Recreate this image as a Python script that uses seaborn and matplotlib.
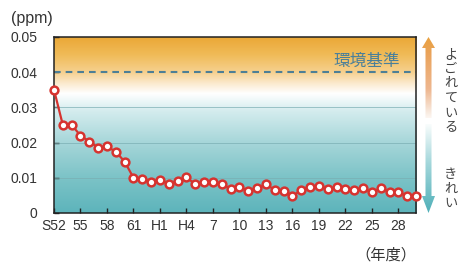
import numpy as np
import matplotlib
matplotlib.use('Agg')
import matplotlib.pyplot as plt
from matplotlib.colors import LinearSegmentedColormap
from matplotlib.patches import Polygon
import seaborn as sns

# annual mean NO2 (ppm), S52 .. H30
years = ["S52", "S53", "S54", "S55", "S56", "S57", "S58", "S59", "S60", "S61", "S62", "S63"] + \
        ["H%d" % i for i in range(1, 31)]
no2 = [0.0350, 0.0250, 0.0250, 0.0220, 0.0203, 0.0186, 0.0189, 0.0174, 0.0146, 0.0100,
       0.0097, 0.0088, 0.0095, 0.0082, 0.0091, 0.0101, 0.0082, 0.0089, 0.0089, 0.0082,
       0.0069, 0.0073, 0.0063, 0.0070, 0.0081, 0.0066, 0.0063, 0.0047, 0.0066, 0.0073,
       0.0076, 0.0069, 0.0073, 0.0069, 0.0066, 0.0070, 0.0059, 0.0070, 0.0061, 0.0061,
       0.0047, 0.0047]
tick_labels = ["S52", "55", "58", "61", "H1", "H4", "7", "10", "13", "16", "19", "22", "25", "28"]
yticks = [0, 0.01, 0.02, 0.03, 0.04, 0.05]
ytick_labels = ["0", "0.01", "0.02", "0.03", "0.04", "0.05"]
standard = 0.04

sns.set_style("ticks")
plt.rcParams['font.family'] = ['Liberation Sans', 'Noto Sans CJK JP', 'DejaVu Sans']

W, H = 459, 266
fig = plt.figure(figsize=(W / 100, H / 100), dpi=100)

def px(x0, y0, x1, y1):
    return [x0 / W, 1 - y1 / H, (x1 - x0) / W, (y1 - y0) / H]

ax = fig.add_axes(px(54, 37, 416, 213))
idx = np.arange(len(years))

# background gradient: teal (clean) -> white -> orange (polluted)
bg_cmap = LinearSegmentedColormap.from_list("bg", [
    (0.0, "#5db4bb"), (0.2, "#7cc3c7"), (0.4, "#a6d6d9"), (0.58, "#d4ecee"),
    (0.68, "#ffffff"), (0.74, "#fbe9cc"), (0.8, "#f6d190"), (0.9, "#f0bb58"),
    (1.0, "#eba837")])
grad = np.linspace(0, 1, 256).reshape(-1, 1)
ax.imshow(grad, extent=[0, len(years) - 1, 0, 0.05], aspect='auto', cmap=bg_cmap,
          origin='lower', zorder=0)

for v in [0.01, 0.02, 0.03]:
    ax.axhline(v, color="#7aaeb2", lw=0.7, alpha=0.7, zorder=1)
ax.axhline(standard, color="#4d7f96", lw=1.5, dashes=(3.2, 2.4), zorder=2)
ax.text(idx[-1] - 1.8, standard + 0.0007, "環境基準", color="#4a7f9a", fontsize=12,
        ha='right', va='bottom', family=['Noto Sans CJK JP'], zorder=3)

sns.lineplot(x=idx, y=no2, ax=ax, color="#d6332f", lw=1.6, marker='o', markersize=5.6,
             markerfacecolor='white', markeredgecolor="#d6332f", markeredgewidth=1.8,
             clip_on=False, zorder=5)

ax.set_xlim(0, len(years) - 1)
ax.set_ylim(0, 0.05)
ax.set_xticks(idx[::3])
ax.set_xticklabels(tick_labels)
ax.set_yticks(yticks)
ax.set_yticklabels(ytick_labels)
ax.tick_params(direction='in', length=3.5, width=1, color="#222222", labelsize=10,
               labelcolor="#333333")
ax.tick_params(axis='y', pad=12)
ax.tick_params(axis='x', pad=4)
for s in ax.spines.values():
    s.set_visible(True)
    s.set_color("#222222")
    s.set_linewidth(1.1)
ax.set_xlabel("")
ax.set_ylabel("")

fig.text(32 / W, 1 - 18 / H, "(ppm)", fontsize=11.5, color="#333333", ha='center', va='center')
fig.text(386 / W, 1 - 255 / H, "（年度）", fontsize=11, color="#333333", ha='center',
         va='center', family=['Noto Sans CJK JP'])

# side arrows with gradient
axa = fig.add_axes(px(418, 35, 440, 216))
axa.set_xlim(418, 440)
axa.set_ylim(216, 35)
axa.axis('off')
ar_cmap = LinearSegmentedColormap.from_list("ar", [
    (0.0, "#e9a13c"), (0.1, "#eaa35a"), (0.3, "#eeb790"), (0.42, "#f8e8dc"),
    (0.48, "#ffffff"), (0.52, "#eef8f8"), (0.7, "#a6d8dc"), (1.0, "#4aadb6")])
agrad = np.linspace(0, 1, 256).reshape(-1, 1)
up = Polygon([(428.5, 37), (435, 48), (431.5, 48), (431.5, 118), (425.5, 118), (425.5, 48),
              (422, 48)], closed=True, transform=axa.transData)
down = Polygon([(425.5, 124), (431.5, 124), (431.5, 196), (435, 196), (428.5, 213), (422, 196),
                (425.5, 196)], closed=True, transform=axa.transData)
for poly in [up, down]:
    im = axa.imshow(agrad, extent=[418, 440, 216, 35], aspect='auto', cmap=ar_cmap,
                    origin='upper')
    im.set_clip_path(poly)

fig.text(451 / W, 1 - 48 / H, "\n".join("よごれている"), fontsize=9.5, color="#444444",
         ha='center', va='top', linespacing=1.17, family=['Noto Sans CJK JP'])
fig.text(451 / W, 1 - 168 / H, "\n".join("きれい"), fontsize=9.5, color="#444444",
         ha='center', va='top', linespacing=1.17, family=['Noto Sans CJK JP'])

fig.savefig("out.png", dpi=100)
